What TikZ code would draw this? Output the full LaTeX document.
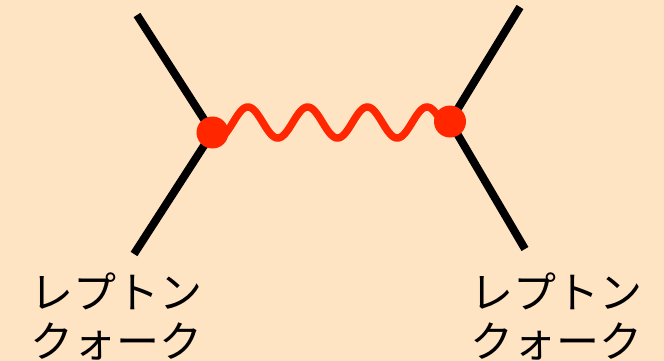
\documentclass[tikz,border=0pt]{standalone}
\usepackage{fontspec}
\newfontfamily\jpfont{Noto Sans CJK JP}
\definecolor{bg}{RGB}{255,228,196}
\definecolor{boson}{RGB}{255,38,0}
\tikzset{
  fermion/.style={line width=8pt, black},
  wave/.style={line width=7.5pt, boson, line cap=round},
  vdot/.style={circle, fill=boson, minimum size=32pt, inner sep=0pt},
  lbl/.style={font=\jpfont\fontsize{43}{49}\selectfont, align=center, inner sep=0pt, text=black}
}
\begin{document}
\begin{tikzpicture}[x=1pt,y=-1pt]
\fill[bg] (0,0) rectangle (664,361);
\useasboundingbox (0,0) rectangle (664,361);
\coordinate (lv) at (212.5,132.5);
\coordinate (rv) at (450,121.5);
\coordinate (lu) at (137,15);
\coordinate (ld) at (134,254);
\coordinate (ru) at (520,7);
\coordinate (rd) at (525,249);
\draw[fermion] (lu) -- (lv) -- (ld);
\draw[fermion] (ru) -- (rv) -- (rd);
\draw[wave] plot[domain=219:446, samples=240, smooth] (\x, {122.5 - 15.5*sin((\x-233)/59.7*360)});
\node[vdot] (a) at (lv) {};
\node[vdot] (b) at (rv) {};
\node[lbl] (tl) at (116.5,316) {レプトン\\クォーク};
\node[lbl] (tr) at (556.5,316) {レプトン\\クォーク};
\end{tikzpicture}
\end{document}
